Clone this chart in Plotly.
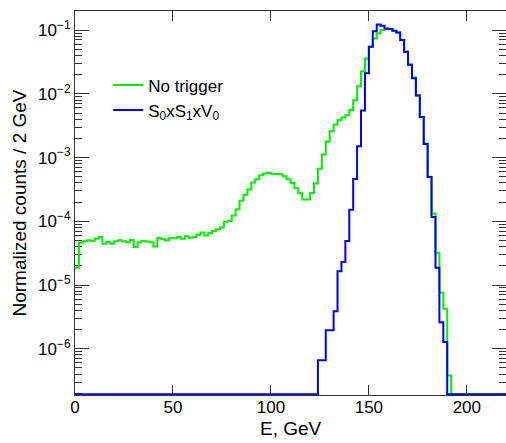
import numpy as np
import plotly.graph_objects as go

# Bin edges: 2 GeV bins from 0 to 220 GeV
bin_width = 2
e_min, e_max = 0, 220

# "No trigger" normalized counts per 2 GeV bin (110 bins)
no_trigger = [
    1.87e-5, 4.62e-5, 4.85e-5, 5.02e-5, 4.9e-5, 5.33e-5, 5.66e-5, 4.45e-5, 4.73e-5, 4.45e-5,
    4.85e-5, 5.02e-5, 4.85e-5, 4.68e-5, 5.1e-5, 3.94e-5, 4.68e-5, 4.9e-5, 4.8e-5, 4.68e-5,
    4.03e-5, 5.47e-5, 5.21e-5, 5.02e-5, 5.4e-5, 5.4e-5, 5.66e-5, 5.33e-5, 5.8e-5, 5.5e-5,
    5.66e-5, 6.17e-5, 6.64e-5, 6.0e-5, 6.56e-5, 7.07e-5, 7.5e-5, 8.0e-5, 9.8e-5, 1.01e-4,
    1.23e-4, 1.55e-4, 2.1e-4, 2.6e-4, 3.15e-4, 4.06e-4, 4.57e-4, 5.27e-4, 5.6e-4, 5.75e-4,
    5.55e-4, 5.5e-4, 5.45e-4, 5.1e-4, 4.57e-4, 4.03e-4, 3.3e-4, 2.75e-4, 2.19e-4, 2.19e-4,
    2.78e-4, 3.9e-4, 6.7e-4, 1.12e-3, 1.78e-3, 2.59e-3, 3.3e-3, 3.9e-3, 4.25e-3, 4.6e-3,
    5.6e-3, 7.9e-3, 1.31e-2, 2.27e-2, 3.6e-2, 5.5e-2, 7.4e-2, 8.9e-2, 1.0e-1, 1.04e-1,
    1.04e-1, 9.8e-2, 9.2e-2, 7.0e-2, 4.57e-2, 2.9e-2, 1.81e-2, 9.5e-3, 4.35e-3, 1.66e-3,
    5.0e-4, 1.32e-4, 3.2e-5, 7.6e-6, 4.25e-6, 3.8e-7, 0, 0, 0, 0,
    0, 0, 0, 0, 0, 0, 0, 0, 0, 0,
]

# "S0xS1xV0" trigger normalized counts per 2 GeV bin (110 bins)
s0s1v0 = [0] * 62 + [
    6.6e-7, 6.6e-7, 1.95e-6, 1.95e-6, 3.86e-6, 1.64e-5, 2.3e-5, 4.9e-5,
    1.52e-4, 4.6e-4, 1.5e-3, 5.5e-3, 2.1e-2, 5.5e-2, 9.6e-2, 1.23e-1, 1.17e-1, 1.06e-1,
    1.04e-1, 9.8e-2, 9.2e-2, 7.0e-2, 4.57e-2, 2.85e-2, 1.75e-2, 9.4e-3, 4.35e-3, 1.63e-3,
    4.97e-4, 1.17e-4, 1.87e-5, 2.6e-6, 1.27e-6,
] + [0] * 15

x_ticks = [0, 50, 100, 150, 200]
y_decades = [-6, -5, -4, -3, -2, -1]
y_log_range = [-6.726, -0.70]
x_title = "E, GeV"
y_title = "Normalized counts / 2 GeV"

edges = np.arange(e_min, e_max + bin_width, bin_width)
floor_val = 10 ** (y_log_range[0] + 0.012)


def step_y(vals):
    v = [val if val > 0 else floor_val for val in vals]
    return v + [v[-1]]


FONT = "Liberation Sans, Arial, Helvetica, sans-serif"

fig = go.Figure()
fig.add_trace(go.Scatter(
    x=edges, y=step_y(no_trigger), mode="lines", line_shape="hv",
    line=dict(color="rgb(0,240,0)", width=2), name="No trigger",
))
fig.add_trace(go.Scatter(
    x=edges, y=step_y(s0s1v0), mode="lines", line_shape="hv",
    line=dict(color="rgb(0,0,240)", width=2), name="S<sub>0</sub>xS<sub>1</sub>xV<sub>0</sub>",
))

fig.update_layout(
    width=506, height=443,
    margin=dict(l=75, r=0, t=11, b=48),
    paper_bgcolor="white", plot_bgcolor="white",
    font=dict(family=FONT, size=17, color="black"),
    showlegend=True,
    legend=dict(x=0.077, y=0.853, xanchor="left", yanchor="top",
                bgcolor="rgba(0,0,0,0)", borderwidth=0,
                font=dict(size=17), tracegroupgap=0),
    annotations=[dict(
        text=x_title, xref="paper", yref="paper", x=0.5, y=-0.088,
        xanchor="center", yanchor="middle", showarrow=False,
        font=dict(size=19),
    )],
)
fig.update_xaxes(
    range=[e_min, e_max], tickvals=x_ticks, ticktext=[str(t) for t in x_ticks],
    ticks="inside", ticklen=10, tickcolor="#333", tickwidth=1,
    showline=True, linecolor="#333", linewidth=1, mirror="ticks",
    showgrid=False, zeroline=False, layer="below traces",
    tickfont=dict(size=17), ticklabelstandoff=-3,
)
fig.update_yaxes(
    type="log", range=y_log_range,
    tickvals=[10 ** d for d in y_decades],
    ticktext=["10<sup>\u2212%d</sup>" % (-d) for d in y_decades],
    ticks="inside", ticklen=14, tickcolor="#333", tickwidth=1,
    minor=dict(ticks="inside", ticklen=7, dtick="D1", tickcolor="#333", tickwidth=1, showgrid=False),
    showline=True, linecolor="#333", linewidth=1, mirror="ticks",
    showgrid=False, zeroline=False, layer="below traces",
    title=dict(text=y_title, standoff=6, font=dict(size=19)),
    tickfont=dict(size=17),
)

fig.write_html("out.html")
